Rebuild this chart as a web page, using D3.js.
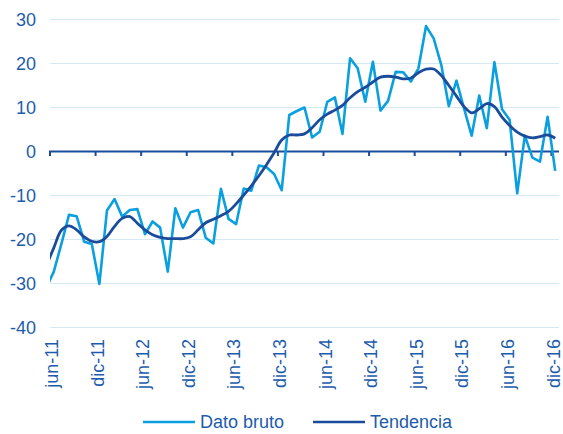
<!DOCTYPE html>
<html>
<head>
<meta charset="utf-8">
<script src="https://cdn.jsdelivr.net/npm/d3@7"></script>
<style>
  body { margin: 0; background: #fff; }
  svg { display: block; font-family: "Liberation Sans", Arial, sans-serif; }
</style>
</head>
<body>
<svg id="chart" width="563" height="434"></svg>
<script>
const width = 563;
const height = 434;

// months from may-11 (partly clipped at the left edge) to dic-16
const monthNames = ['ene','feb','mar','abr','may','jun','jul','ago','sep','oct','nov','dic'];
const months = [];
for (let y = 2011, m = 4; y < 2017; ) {
	months.push(`${monthNames[m]}-${String(y).slice(2)}`);
	m++;
	if (m === 12) { m = 0; y++; }
}

const tickLabels = ['jun-11','dic-11','jun-12','dic-12','jun-13','dic-13','jun-14','dic-14','jun-15','dic-15','jun-16','dic-16'];
const yTicks = [30, 20, 10, 0, -10, -20, -30, -40];

const datoBruto = [
	-31, -27.3, -21, -14.4, -14.7, -20.5, -21, -30.1,
	-13.4, -10.8, -14.8, -13.3, -13.1, -18.8, -15.9, -17.3, -27.3, -12.9, -17.3, -13.8,
	-13.3, -19.6, -20.9, -8.5, -15.3, -16.5, -8.4, -8.9, -3.2, -3.6, -5.1, -8.8,
	8.3, 9.2, 10, 3.2, 4.5, 11.3, 12.3, 4, 21.2, 18.9, 11.3, 20.4,
	9.3, 11.5, 18.1, 18, 15.9, 18.9, 28.5, 25.7, 19.7, 10.3, 16.1, 9.8,
	3.6, 12.7, 5.3, 20.3, 9.6, 7.2, -9.5, 3.6, -1.4, -2.3, 7.9, -4.4
];

const tendencia = [
	-26, -21.9, -17.9, -16.9, -17.8, -19.4, -20.4, -20.5,
	-19.3, -17, -15.2, -14.8, -16.3, -17.8, -18.9, -19.5, -19.8, -19.8, -19.8, -19.4,
	-17.8, -16.2, -15.4, -14.6, -13.6, -11.9, -9.9, -7.8, -5.5, -3.0, -0.3, 2.6,
	3.75, 3.75, 4.0, 5.4, 7.2, 8.5, 9.4, 10.5, 12.2, 13.6, 14.6, 15.8,
	16.9, 17.1, 16.9, 16.5, 16.7, 17.9, 18.7, 18.75, 17.3, 15.0, 12.6, 10.2,
	8.8, 9.7, 10.9, 10.2, 7.8, 5.9, 4.4, 3.5, 3.1, 3.4, 3.75, 3.0
];

const colorBruto = '#0aa0e0';
const colorTend = '#1b4c9c';
const textColor = '#1d5cab';

const plot = { left: 50, right: 559, top: 19.5, bottom: 327.5 };

// index 0 = may-11; categories sit between tick marks
const x = d3.scaleLinear()
	.domain([0.5, months.length - 0.5])
	.range([plot.left, plot.right]);

const y = d3.scaleLinear()
	.domain([-40, 30])
	.range([plot.bottom, plot.top]);

const svg = d3.select('#chart');

svg.append('defs')
	.append('clipPath')
		.attr('id', 'plot-clip')
	.append('rect')
		.attr('x', plot.left)
		.attr('y', 0)
		.attr('width', plot.right - plot.left)
		.attr('height', height);

// gridlines
svg.append('g')
	.selectAll('line')
	.data(yTicks.filter(d => d !== 0)).enter()
	.append('line')
		.attr('x1', plot.left)
		.attr('x2', plot.right)
		.attr('y1', d => y(d))
		.attr('y2', d => y(d))
		.style('stroke', '#d5e9f5')
		.style('stroke-width', 1.2);

// y labels
svg.append('g')
	.selectAll('text')
	.data(yTicks).enter()
	.append('text')
		.attr('x', 36)
		.attr('y', d => y(d))
		.attr('dy', '0.35em')
		.style('text-anchor', 'end')
		.style('font-size', '18px')
		.style('fill', textColor)
		.text(d => d);

// zero axis with tick marks every 6 months
svg.append('line')
	.attr('x1', plot.left - 1)
	.attr('x2', plot.right)
	.attr('y1', y(0))
	.attr('y2', y(0))
	.style('stroke', colorTend)
	.style('stroke-width', 2.2);

svg.append('g')
	.selectAll('line')
	.data(tickLabels).enter()
	.append('line')
		.attr('x1', (d, i) => x(0.5 + i * 6))
		.attr('x2', (d, i) => x(0.5 + i * 6))
		.attr('y1', y(0))
		.attr('y2', y(0) + 4.5)
		.style('stroke', colorTend)
		.style('stroke-width', 2);

// x labels (rotated)
svg.append('g')
	.selectAll('text')
	.data(tickLabels).enter()
	.append('text')
		.attr('transform', d => `translate(${x(months.indexOf(d)) - 2}, 339) rotate(-90)`)
		.attr('dy', '0.35em')
		.style('text-anchor', 'end')
		.style('font-size', '18px')
		.style('fill', textColor)
		.text(d => d);

const lines = svg.append('g').attr('clip-path', 'url(#plot-clip)');

lines.append('path')
	.datum(datoBruto)
	.attr('d', d3.line().x((d, i) => x(i)).y(d => y(d)))
	.style('fill', 'none')
	.style('stroke', colorBruto)
	.style('stroke-width', 2.6)
	.style('stroke-linejoin', 'round');

lines.append('path')
	.datum(tendencia)
	.attr('d', d3.line().x((d, i) => x(i)).y(d => y(d)).curve(d3.curveCatmullRom))
	.style('fill', 'none')
	.style('stroke', colorTend)
	.style('stroke-width', 2.8)
	.style('stroke-linejoin', 'round');

// legend
const legendItems = [
	{ name: 'Dato bruto', color: colorBruto, x: 143 },
	{ name: 'Tendencia', color: colorTend, x: 313 }
];

const legend = svg.append('g')
	.selectAll('g')
	.data(legendItems).enter()
	.append('g')
		.attr('transform', d => `translate(${d.x}, 422)`);

legend.append('line')
	.attr('x1', 0)
	.attr('x2', 52)
	.style('stroke', d => d.color)
	.style('stroke-width', 2.6);

legend.append('text')
	.attr('x', 57)
	.attr('dy', '0.35em')
	.style('font-size', '18px')
	.style('fill', textColor)
	.text(d => d.name);
</script>
</body>
</html>
